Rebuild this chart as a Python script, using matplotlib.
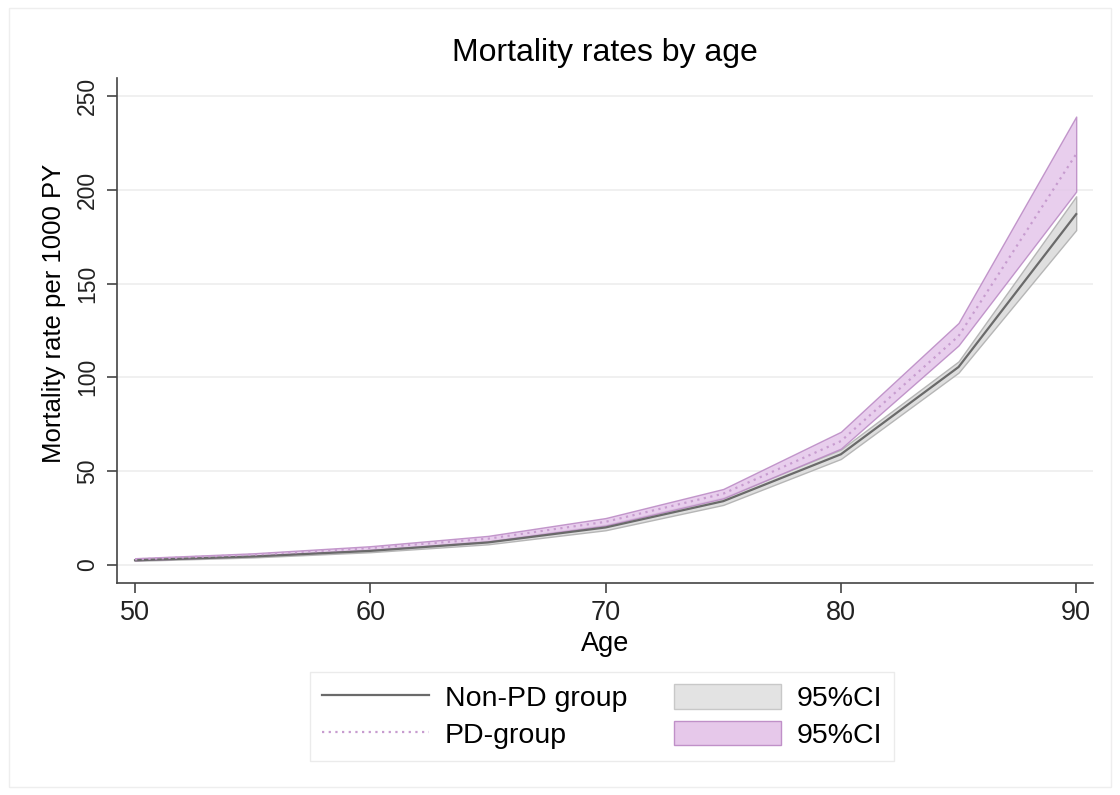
import numpy as np
import matplotlib.pyplot as plt
from matplotlib.patches import Patch
from matplotlib.lines import Line2D

plt.rcParams['font.family'] = ['Liberation Sans', 'DejaVu Sans']

age = [50, 55, 60, 65, 70, 75, 80, 85, 90]

# mortality per 1000 person-years
non_pd = [2.5, 4.5, 7.5, 12, 20, 34, 59, 105.5, 187]
non_pd_lo = [2.2, 4.0, 6.8, 11, 18.5, 32, 56.5, 102.5, 178.5]
non_pd_hi = [2.8, 5.0, 8.2, 13, 21.5, 36, 61.5, 108.5, 196.5]

pd_rate = [3, 5.5, 9, 14, 23, 38, 66, 122, 219]
pd_lo = [2.5, 4.8, 8, 12.5, 21, 35.5, 62, 117, 199]
pd_hi = [3.6, 6.2, 10, 15.5, 25, 40.5, 71, 129, 239]

fig = plt.figure(figsize=(11.2, 7.95), dpi=100)
ax = fig.add_axes([0.1045, 0.2667, 0.8715, 0.6353])

ax.fill_between(age, non_pd_lo, non_pd_hi, facecolor='#dcdcdc', edgecolor='#b0b0b0',
                lw=1, alpha=0.9, zorder=2)
ax.fill_between(age, pd_lo, pd_hi, facecolor='#e4c6ea', edgecolor='#b987c3',
                lw=1, alpha=0.85, zorder=3)
ax.plot(age, non_pd, color='#6a6a6a', lw=1.6, zorder=4)
ax.plot(age, pd_rate, color='#c79ccf', lw=1.6, ls=(0, (1, 2)), zorder=5)

ax.set_xlim(49.235, 90.72)
ax.set_ylim(-9.6, 259.6)
ax.set_xticks([50, 60, 70, 80, 90])
ax.set_yticks([0, 50, 100, 150, 200, 250])
ax.grid(axis='y', color='#eeeeee', lw=1.2)
ax.set_axisbelow(True)
for side in ['top', 'right']:
    ax.spines[side].set_visible(False)
for side in ['left', 'bottom']:
    ax.spines[side].set_color('#444444')
    ax.spines[side].set_linewidth(1.2)
ax.tick_params(direction='out', length=7, width=1.2, color='#444444', colors='#222222')
ax.tick_params(axis='x', labelsize=19.5, pad=5)
ax.tick_params(axis='y', labelsize=16.5, pad=6)
for lbl in ax.get_yticklabels():
    lbl.set_rotation(90)
    lbl.set_va('center')

ax.set_xlabel('Age', fontsize=19.5, labelpad=4)
ax.set_ylabel('Mortality rate per 1000 PY', fontsize=18.5)
ax.yaxis.set_label_coords(-0.052, 0.534)
ax.set_title('Mortality rates by age', fontsize=23, pad=12)

handles = [Line2D([], [], color='#6a6a6a', lw=1.6),
           Line2D([], [], color='#c79ccf', lw=1.6, ls=(0, (1, 2))),
           Patch(facecolor='#e3e3e3', edgecolor='#c8c8c8'),
           Patch(facecolor='#e6c8ea', edgecolor='#c090c8')]
labels = ['Non-PD group', 'PD-group', '95%CI', '95%CI']
fig.legend(handles, labels, ncol=2, loc='center', bbox_to_anchor=(0.5375, 0.0987),
           fontsize=20.5, frameon=True, fancybox=False, edgecolor='#e6e6e6',
           handlelength=3.75, handleheight=0.95, columnspacing=1.65,
           handletextpad=0.56, borderpad=0.42, labelspacing=0.3)

fig.patches.append(plt.Rectangle((0.008, 0.01), 0.984, 0.98, transform=fig.transFigure,
                                 fill=False, edgecolor='#eeeeee', lw=1))

fig.savefig('out.png', dpi=100)
